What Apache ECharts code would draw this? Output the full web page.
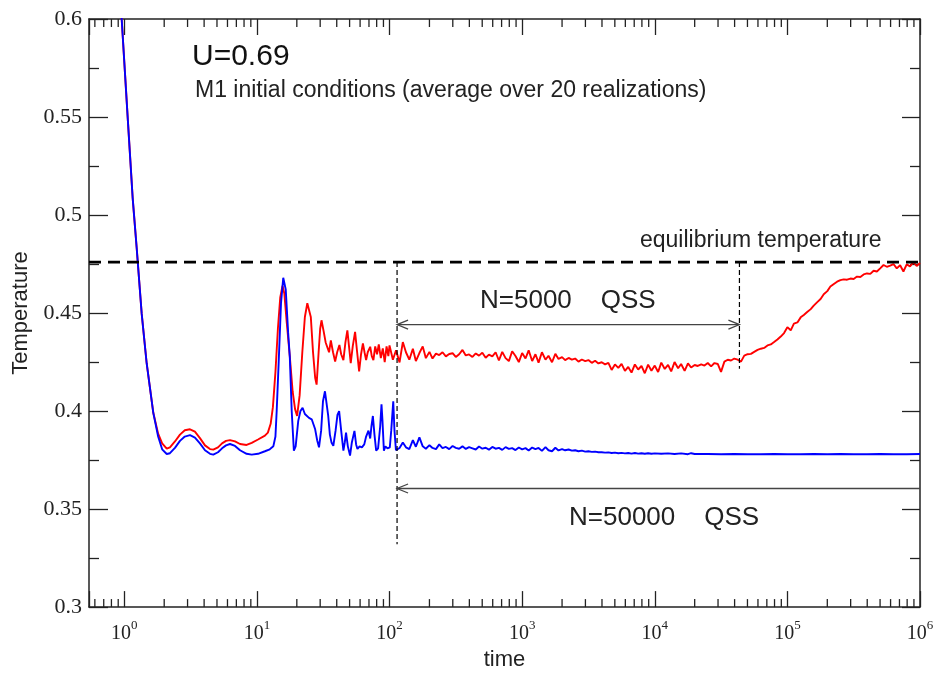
<!DOCTYPE html>
<html>
<head>
<meta charset="utf-8">
<script src="https://cdn.jsdelivr.net/npm/echarts@6/dist/echarts.min.js"></script>
<style>
  html, body { margin: 0; padding: 0; background: #fff; }
  #chart { width: 937px; height: 676px; }
</style>
</head>
<body>
<div id="chart"></div>
<script>
// axis ranges
var timeMin = 0.542, timeMax = 1e6;
var tempMin = 0.3, tempMax = 0.6, tempStep = 0.05;

// minor ticks of the log time axis
var minorTimes = [0.6, 0.7, 0.8, 0.9,
  2, 3, 4, 5, 6, 7, 8, 9,
  20, 30, 40, 50, 60, 70, 80, 90,
  200, 300, 400, 500, 600, 700, 800, 900,
  2000, 3000, 4000, 5000, 6000, 7000, 8000, 9000,
  2e4, 3e4, 4e4, 5e4, 6e4, 7e4, 8e4, 9e4,
  2e5, 3e5, 4e5, 5e5, 6e5, 7e5, 8e5, 9e5];

// N=5000, early relaxation and violent oscillations  [time, temperature]
var redEarly = [
  [0.9, 0.628], [0.956, 0.600], [1.012, 0.5725], [1.066, 0.5475], [1.157, 0.5086], [1.24, 0.4833],
  [1.353, 0.4497], [1.475, 0.4244], [1.655, 0.3991], [1.8, 0.3885], [1.93, 0.3835], [2.09, 0.3808],
  [2.21, 0.3815], [2.41, 0.3845], [2.63, 0.3880], [2.86, 0.3902], [3.13, 0.3907], [3.41, 0.3895],
  [3.72, 0.3862], [4.06, 0.3825], [4.43, 0.3806], [4.69, 0.3803], [5.09, 0.3815], [5.46, 0.3835],
  [5.85, 0.3848], [6.27, 0.3852], [6.84, 0.3845], [7.46, 0.3832], [8.36, 0.3827], [9.14, 0.3838],
  [10.2, 0.3855], [11.5, 0.3875], [12.1, 0.3890], [12.7, 0.3935], [13.2, 0.4020], [13.8, 0.4200],
  [14.4, 0.4420], [15.0, 0.4580], [15.6, 0.4640], [16.1, 0.4600], [16.8, 0.4450], [17.7, 0.4280],
  [18.6, 0.4100], [19.4, 0.4010], [20.1, 0.3975], [21.0, 0.4080], [22.0, 0.4300], [23.0, 0.4480],
  [24.0, 0.4550], [24.7, 0.4556], [25.5, 0.4480], [26.5, 0.4300], [27.5, 0.4170], [28.2, 0.4135],
  [29.2, 0.4300], [30.0, 0.4420], [30.7, 0.4463], [31.8, 0.4410], [33.0, 0.4350], [34.0, 0.4345],
  [35.0, 0.4300], [36.1, 0.4360], [37.5, 0.4300], [38.9, 0.4253], [40.3, 0.4300], [41.9, 0.4337],
  [43.2, 0.4290], [44.9, 0.4260], [46.5, 0.4350], [48.1, 0.4412], [49.5, 0.4330], [51.0, 0.4244],
  [52.8, 0.4330], [55.0, 0.4404], [57.0, 0.4300], [59.0, 0.4202], [61.0, 0.4290], [63.0, 0.4345],
  [64.8, 0.4300], [66.6, 0.4260], [68.5, 0.4300], [71.5, 0.4328], [73.5, 0.4280], [75.6, 0.4260],
  [78, 0.4330], [80.5, 0.4290], [83, 0.4340], [86, 0.4270], [89, 0.4320], [92, 0.4250],
  [95, 0.4330], [98, 0.4280]
];

// N=5000, quasi-stationary state and final rise to equilibrium
var redLate = [
  [100, 0.4335], [106, 0.4262], [112, 0.4310], [119, 0.4248], [126, 0.4352], [133, 0.4300],
  [141, 0.4262], [150, 0.4318], [158, 0.4255], [168, 0.4296], [178, 0.4330], [188, 0.4270],
  [200, 0.4302], [211, 0.4268], [224, 0.4293], [237, 0.4286], [251, 0.4300], [266, 0.4279],
  [282, 0.4291], [299, 0.4295], [316, 0.4276], [335, 0.4290], [355, 0.4312], [376, 0.4284],
  [398, 0.4289], [422, 0.4276], [447, 0.4294], [473, 0.4283], [501, 0.4298], [531, 0.4272],
  [562, 0.4288], [596, 0.4279], [631, 0.4300], [668, 0.4258], [708, 0.4302], [750, 0.4270],
  [794, 0.4255], [841, 0.4305], [891, 0.4281], [944, 0.4250],
  [1000, 0.4296], [1060, 0.4268], [1120, 0.4310], [1190, 0.4255], [1260, 0.4290], [1330, 0.4247],
  [1410, 0.4300], [1500, 0.4262], [1580, 0.4282], [1680, 0.4249], [1780, 0.4292], [1880, 0.4266],
  [2000, 0.4275], [2110, 0.4260], [2240, 0.4271], [2370, 0.4262], [2510, 0.4268], [2660, 0.4252],
  [2820, 0.4263], [2990, 0.4255], [3160, 0.4260], [3350, 0.4246], [3550, 0.4257], [3760, 0.4243],
  [3980, 0.4249], [4220, 0.4238], [4470, 0.4246], [4730, 0.4210], [5010, 0.4238], [5310, 0.4220],
  [5620, 0.4241], [5960, 0.4205], [6310, 0.4225], [6680, 0.4196], [7080, 0.4238], [7500, 0.4212],
  [7940, 0.4230], [8410, 0.4193], [8910, 0.4237], [9440, 0.4206],
  [10000, 0.4232], [10600, 0.4199], [11200, 0.4247], [11900, 0.4215], [12600, 0.4236], [13300, 0.4202],
  [14100, 0.4250], [15000, 0.4218], [15800, 0.4240], [16800, 0.4205], [17800, 0.4243], [18800, 0.4222],
  [20000, 0.4235], [21100, 0.4230], [22400, 0.4238], [23700, 0.4232], [25100, 0.4245], [26600, 0.4228],
  [28200, 0.4245], [29900, 0.4240], [31600, 0.4200], [33500, 0.4252], [35500, 0.4262], [37600, 0.4258],
  [39800, 0.4268], [42200, 0.4262], [44700, 0.4252], [47300, 0.4283], [50100, 0.4290], [53100, 0.4292],
  [56200, 0.4302], [59600, 0.4312], [63100, 0.4318], [66800, 0.4322], [70800, 0.4335], [75000, 0.4340],
  [79400, 0.4352], [84100, 0.4365], [89100, 0.4380], [94400, 0.4398],
  [1.00e5, 0.4428], [1.06e5, 0.4412], [1.12e5, 0.4446], [1.19e5, 0.4452], [1.26e5, 0.4478], [1.33e5, 0.4490],
  [1.41e5, 0.4505], [1.50e5, 0.4520], [1.58e5, 0.4538], [1.68e5, 0.4556], [1.78e5, 0.4572], [1.88e5, 0.4596],
  [2.00e5, 0.4612], [2.11e5, 0.4635], [2.24e5, 0.4648], [2.37e5, 0.4660], [2.51e5, 0.4668], [2.66e5, 0.4672],
  [2.82e5, 0.4670], [2.99e5, 0.4676], [3.16e5, 0.4674], [3.35e5, 0.4686], [3.55e5, 0.4684], [3.76e5, 0.4697],
  [3.98e5, 0.4702], [4.22e5, 0.4700], [4.47e5, 0.4716], [4.73e5, 0.4712], [5.01e5, 0.4728], [5.31e5, 0.4745],
  [5.62e5, 0.4736], [5.96e5, 0.4742], [6.31e5, 0.4750], [6.68e5, 0.4728], [7.08e5, 0.4744], [7.50e5, 0.4712],
  [7.94e5, 0.4748], [8.41e5, 0.4738], [8.91e5, 0.4760], [9.44e5, 0.4740], [1e6, 0.4755]
];

// N=50000
var blueEarly = [
  [0.9, 0.628], [0.956, 0.600], [1.012, 0.5725], [1.066, 0.5475], [1.157, 0.5086], [1.24, 0.4833],
  [1.353, 0.4497], [1.475, 0.4244], [1.655, 0.3991], [1.8, 0.3870], [1.93, 0.3805], [2.09, 0.3781],
  [2.21, 0.3785], [2.41, 0.3812], [2.63, 0.3848], [2.86, 0.3870], [3.13, 0.3877], [3.41, 0.3865],
  [3.72, 0.3835], [4.06, 0.3800], [4.43, 0.3782], [4.69, 0.3778], [5.09, 0.3790], [5.46, 0.3810],
  [5.85, 0.3825], [6.27, 0.3832], [6.84, 0.3822], [7.46, 0.3800], [8.36, 0.3782], [9.14, 0.3778],
  [10.2, 0.3782], [11.5, 0.3795], [12.5, 0.3805], [13.3, 0.3820], [13.8, 0.3870], [14.1, 0.4000],
  [14.6, 0.4250], [15.2, 0.4550], [15.8, 0.4680], [16.1, 0.4690], [16.5, 0.4620], [17.2, 0.4400],
  [17.7, 0.4278], [18.3, 0.4000], [19.0, 0.3798], [19.6, 0.3820], [20.5, 0.3950], [21.3, 0.4000],
  [22.1, 0.4017], [23.0, 0.3985], [23.7, 0.3975], [24.7, 0.3965], [25.9, 0.3958], [27.5, 0.3907],
  [28.5, 0.3850], [29.4, 0.3815], [30.5, 0.3900], [31.5, 0.4050], [32.6, 0.4101], [33.5, 0.4040],
  [34.5, 0.3975], [35.5, 0.3880], [36.5, 0.3840], [37.7, 0.3823], [39.2, 0.3900], [40.5, 0.3980],
  [41.7, 0.4000], [43.2, 0.3900], [44.9, 0.3798], [46.0, 0.3840], [47.0, 0.3890], [48.5, 0.3820],
  [50.4, 0.3773], [52.0, 0.3840], [54.4, 0.3899], [56.0, 0.3830], [57.3, 0.3807], [59.5, 0.3820],
  [61.9, 0.3815], [64.5, 0.3830], [66.6, 0.3870], [69.4, 0.3900], [71.5, 0.3860], [73.0, 0.3920],
  [74.9, 0.3975], [77.0, 0.3880], [79.3, 0.3798], [82.0, 0.3810], [85.0, 0.3920], [87.0, 0.4034],
  [88.5, 0.3950], [90.7, 0.3798], [93.0, 0.3820], [96.5, 0.3810], [100.5, 0.3815], [103.0, 0.3900],
  [106.7, 0.4050], [109, 0.3900], [111.8, 0.3800]
];

var blueLate = [
  [119, 0.3812], [126, 0.3840], [133, 0.3815], [141, 0.3806], [150, 0.3852], [158, 0.3818],
  [168, 0.3866], [178, 0.3820], [188, 0.3808], [200, 0.3826], [211, 0.3812], [224, 0.3806],
  [237, 0.3830], [251, 0.3811], [266, 0.3817], [282, 0.3806], [299, 0.3822], [316, 0.3812],
  [335, 0.3808], [355, 0.3820], [376, 0.3807], [398, 0.3816], [422, 0.3810], [447, 0.3804],
  [473, 0.3819], [501, 0.3808], [531, 0.3813], [562, 0.3803], [596, 0.3817], [631, 0.3808],
  [668, 0.3812], [708, 0.3802], [750, 0.3816], [794, 0.3807], [841, 0.3811], [891, 0.3801],
  [944, 0.3814], [1000, 0.3805], [1060, 0.3811], [1120, 0.3799], [1190, 0.3814], [1260, 0.3806],
  [1330, 0.3812], [1410, 0.3797], [1500, 0.3816], [1580, 0.3800], [1680, 0.3795], [1780, 0.3813],
  [1880, 0.3799], [2000, 0.3806], [2110, 0.3800], [2240, 0.3804], [2370, 0.3798], [2510, 0.3800],
  [2660, 0.3795], [2820, 0.3798], [2990, 0.3793], [3160, 0.3795], [3350, 0.3792], [3550, 0.3793],
  [3760, 0.3790], [3980, 0.3790], [4220, 0.3788], [4470, 0.3789], [4730, 0.3786], [5010, 0.3788],
  [5310, 0.3785], [5620, 0.3787], [5960, 0.3784], [6310, 0.3786], [6680, 0.3783], [7080, 0.3786],
  [7500, 0.3783], [7940, 0.3785], [8410, 0.3782], [8910, 0.3785], [9440, 0.3782], [10000, 0.3784],
  [11200, 0.3782], [12600, 0.3784], [14100, 0.3781], [15800, 0.3784], [17800, 0.3780], [18800, 0.3785],
  [20000, 0.3781], [25100, 0.3781], [31600, 0.3780], [39800, 0.3781], [50100, 0.3780], [63100, 0.3780],
  [79400, 0.3781], [1e5, 0.3780], [1.26e5, 0.3780], [1.58e5, 0.3781], [2e5, 0.3780], [2.51e5, 0.3781],
  [3.16e5, 0.3780], [3.98e5, 0.3780], [5.01e5, 0.3781], [6.31e5, 0.3780], [7.94e5, 0.3780], [1e6, 0.3781]
];

// annotations (data units)
var eqTemp = 0.476;
var qssStart = 114;          // both QSS start here
var qss5000End = 43500;
var qss5000Bottom = 0.4216;  // lower end of the dashed marker at qss5000End
var qss50000Bottom = 0.332;  // lower end of the dashed marker at qssStart
var arrow5000Temp = 0.4441;
var arrow50000Temp = 0.3605;

var axisColor = '#222';
var serif = 'Liberation Serif, Times New Roman, serif';
var sans = 'Liberation Sans, Arial, sans-serif';

function powerLabel(v) {
  var p = Math.log10(v);
  var r = Math.round(p);
  if (Math.abs(p - r) > 1e-6) return '';
  return '{b|10}{s|' + r + '}';
}

var chart = echarts.init(document.getElementById('chart'));

function dashed(x1, y1, x2, y2, width, dash) {
  return {
    type: 'line',
    shape: { x1: x1, y1: y1, x2: x2, y2: y2 },
    style: { stroke: '#000', lineWidth: width, lineDash: dash }
  };
}

function arrowHead(p, dir) {
  // open V head, dir = -1 points left, 1 points right
  return {
    type: 'polyline',
    shape: { points: [[p[0] - dir * 11, p[1] - 4.5], p, [p[0] - dir * 11, p[1] + 4.5]] },
    style: { stroke: '#444', lineWidth: 1.3, fill: null }
  };
}

var option = {
  animation: false,
  backgroundColor: '#fff',
  grid: { left: 89, right: 17, top: 19, bottom: 63 },
  xAxis: [
    {
      type: 'log', logBase: 10, min: timeMin, max: timeMax, position: 'bottom',
      name: 'time', nameLocation: 'middle', nameGap: 40,
      nameTextStyle: { fontFamily: sans, fontSize: 22, color: axisColor },
      axisLine: { lineStyle: { color: axisColor, width: 1.5 } },
      axisTick: { inside: true, length: 16, lineStyle: { color: axisColor, width: 1.3 } },
      splitLine: { show: false },
      axisLabel: {
        margin: 12, formatter: powerLabel, color: axisColor,
        rich: {
          b: { fontFamily: serif, fontSize: 20, lineHeight: 30, color: axisColor },
          s: { fontFamily: serif, fontSize: 13, lineHeight: 14, verticalAlign: 'top', color: axisColor }
        }
      }
    },
    {
      type: 'log', logBase: 10, min: timeMin, max: timeMax, position: 'top',
      axisLine: { lineStyle: { color: axisColor, width: 1.5 } },
      axisTick: { inside: true, length: 16, lineStyle: { color: axisColor, width: 1.3 } },
      splitLine: { show: false },
      axisLabel: { show: false }
    }
  ],
  yAxis: [
    {
      type: 'value', min: tempMin, max: tempMax, interval: tempStep, position: 'left',
      name: 'Temperature', nameLocation: 'middle', nameGap: 57,
      nameTextStyle: { fontFamily: sans, fontSize: 22, color: axisColor },
      axisLine: { show: true, lineStyle: { color: axisColor, width: 1.5 } },
      axisTick: { show: true, inside: true, length: 19, lineStyle: { color: axisColor, width: 1.3 } },
      minorTick: { show: true, splitNumber: 2, length: 10, lineStyle: { color: axisColor, width: 1.3 } },
      splitLine: { show: false },
      axisLabel: {
        margin: 7, fontFamily: serif, fontSize: 22, color: axisColor,
        formatter: function (v) { return String(parseFloat(v.toFixed(3))); }
      }
    },
    {
      type: 'value', min: tempMin, max: tempMax, interval: tempStep, position: 'right',
      axisLine: { show: true, lineStyle: { color: axisColor, width: 1.5 } },
      axisTick: { show: true, inside: true, length: 18, lineStyle: { color: axisColor, width: 1.3 } },
      minorTick: { show: true, splitNumber: 2, length: 10, lineStyle: { color: axisColor, width: 1.3 } },
      splitLine: { show: false },
      axisLabel: { show: false }
    }
  ],
  graphic: [
    { type: 'text', left: 192, top: 42, style: { text: 'U=0.69', font: '30px ' + sans, fill: '#111' } },
    { type: 'text', left: 195, top: 79, style: { text: 'M1 initial conditions (average over 20 realizations)', font: '23px ' + sans, fill: '#222' } },
    { type: 'text', left: 640, top: 229, style: { text: 'equilibrium temperature', font: '23px ' + sans, fill: '#222' } },
    { type: 'text', left: 480, top: 288, style: { text: 'N=5000    QSS', font: '26px ' + sans, fill: '#222' } },
    { type: 'text', left: 569, top: 505, style: { text: 'N=50000    QSS', font: '26px ' + sans, fill: '#222' } }
  ],
  series: [
    {
      name: 'N=5000', type: 'line', data: redEarly.concat(redLate),
      showSymbol: false, symbol: 'none', lineStyle: { color: '#ff0000', width: 1.9 }, z: 2
    },
    {
      name: 'N=50000', type: 'line', data: blueEarly.concat(blueLate),
      showSymbol: false, symbol: 'none', lineStyle: { color: '#0000ff', width: 1.9 }, z: 3
    },
    {
      // minor ticks of both time axes
      type: 'custom', silent: true, clip: false, z: 5,
      data: minorTimes.map(function (t) { return [t, tempMin]; }),
      encode: { x: 0, y: 1 },
      renderItem: function (params, api) {
        var b = api.coord([api.value(0), tempMin]);
        var t = api.coord([api.value(0), tempMax]);
        var st = { stroke: axisColor, lineWidth: 1.3 };
        return {
          type: 'group', children: [
            { type: 'line', shape: { x1: b[0], y1: b[1], x2: b[0], y2: b[1] - 8 }, style: st },
            { type: 'line', shape: { x1: t[0], y1: t[1], x2: t[0], y2: t[1] + 8 }, style: st }
          ]
        };
      }
    },
    {
      // equilibrium line, QSS markers and arrows
      type: 'custom', silent: true, clip: false, z: 4,
      data: [[qssStart, eqTemp]],
      encode: { x: 0, y: 1 },
      renderItem: function (params, api) {
        var eqL = api.coord([timeMin, eqTemp]);
        var eqR = api.coord([timeMax, eqTemp]);
        var s1Top = api.coord([qssStart, eqTemp]);
        var s1Bot = api.coord([qssStart, qss50000Bottom]);
        var s2Top = api.coord([qss5000End, eqTemp]);
        var s2Bot = api.coord([qss5000End, qss5000Bottom]);
        var a1L = api.coord([qssStart, arrow5000Temp]);
        var a1R = api.coord([qss5000End, arrow5000Temp]);
        var a2L = api.coord([qssStart, arrow50000Temp]);
        var a2R = api.coord([timeMax, arrow50000Temp]);
        var shaft = { stroke: '#444', lineWidth: 1.3 };
        return {
          type: 'group', children: [
            dashed(eqL[0], eqL[1], eqR[0], eqR[1], 2.6, [12, 7]),
            dashed(s1Top[0], s1Top[1], s1Bot[0], s1Bot[1], 1.2, [5, 3]),
            dashed(s2Top[0], s2Top[1], s2Bot[0], s2Bot[1], 1.2, [5, 3]),
            { type: 'line', shape: { x1: a1L[0], y1: a1L[1], x2: a1R[0], y2: a1R[1] }, style: shaft },
            arrowHead(a1L, -1), arrowHead(a1R, 1),
            { type: 'line', shape: { x1: a2L[0], y1: a2L[1], x2: a2R[0], y2: a2R[1] }, style: shaft },
            arrowHead(a2L, -1)
          ]
        };
      }
    }
  ]
};

chart.setOption(option);
</script>
</body>
</html>
